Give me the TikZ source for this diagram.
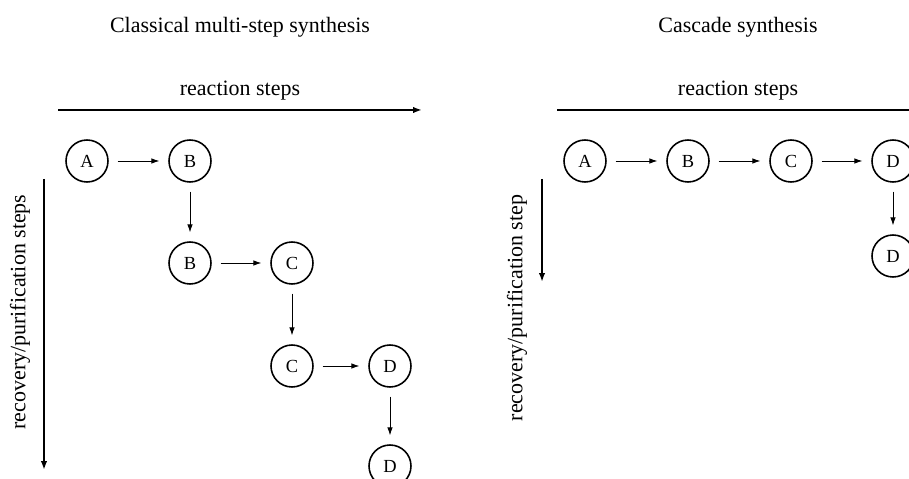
\documentclass[tikz,border=0pt]{standalone}
\usepackage{fontspec}
\setmainfont{Liberation Serif}
\usetikzlibrary{arrows.meta}

\begin{document}
\begin{tikzpicture}[
    x=0.02cm, y=-0.02cm,
    species/.style={circle, draw, line width=0.9pt, minimum size=0.84cm, inner sep=0pt, font=\fontsize{10.5}{12}\selectfont},
    rxn/.style={-{Latex[length=1.6mm, width=1.1mm]}, line width=0.5pt, shorten <=5pt, shorten >=5pt},
    axis/.style={-{Latex[length=1.8mm, width=1.3mm]}, line width=1.1pt},
    lbl/.style={font=\fontsize{12.5}{15}\selectfont, inner sep=0pt}
]
    \clip (0,0) rectangle (909,479);

    % Classical multi-step synthesis (left panel)
    \node[lbl] (titleL) at (240,27) {Classical multi-step synthesis};
    \node[lbl] (rxnL) at (240,91) {reaction steps};
    \coordinate (hL1) at (58,110);
    \coordinate (hL2) at (422,110);
    \coordinate (vL1) at (44,179);
    \coordinate (vL2) at (44,470);
    \draw[axis] (hL1) -- (hL2);
    \draw[axis] (vL1) -- (vL2);
    \node[lbl, rotate=90] (recL) at (20,312) {recovery/purification steps};

    \node[species] (a1) at (87,161) {A};
    \node[species] (b1) at (190,161) {B};
    \node[species] (b2) at (190,263) {B};
    \node[species] (c2) at (292,263) {C};
    \node[species] (c3) at (292,366) {C};
    \node[species] (d3) at (390,366) {D};
    \node[species] (d4) at (390,466) {D};

    \draw[rxn] (a1) -- (b1);
    \draw[rxn] (b1) -- (b2);
    \draw[rxn] (b2) -- (c2);
    \draw[rxn] (c2) -- (c3);
    \draw[rxn] (c3) -- (d3);
    \draw[rxn] (d3) -- (d4);

    % Cascade synthesis (right panel)
    \node[lbl] (titleR) at (738,27) {Cascade synthesis};
    \node[lbl] (rxnR) at (738,91) {reaction steps};
    \coordinate (hR1) at (557,110);
    \coordinate (hR2) at (925,110);
    \coordinate (vR1) at (542,179);
    \coordinate (vR2) at (542,282);
    \draw[axis] (hR1) -- (hR2);
    \draw[axis] (vR1) -- (vR2);
    \node[lbl, rotate=90] (recR) at (517,308) {recovery/purification step};

    \node[species] (ra) at (585,161) {A};
    \node[species] (rb) at (688,161) {B};
    \node[species] (rc) at (791,161) {C};
    \node[species] (rd) at (893,161) {D};
    \node[species] (rd2) at (893,256) {D};

    \draw[rxn] (ra) -- (rb);
    \draw[rxn] (rb) -- (rc);
    \draw[rxn] (rc) -- (rd);
    \draw[rxn] (rd) -- (rd2);

\end{tikzpicture}
\end{document}
